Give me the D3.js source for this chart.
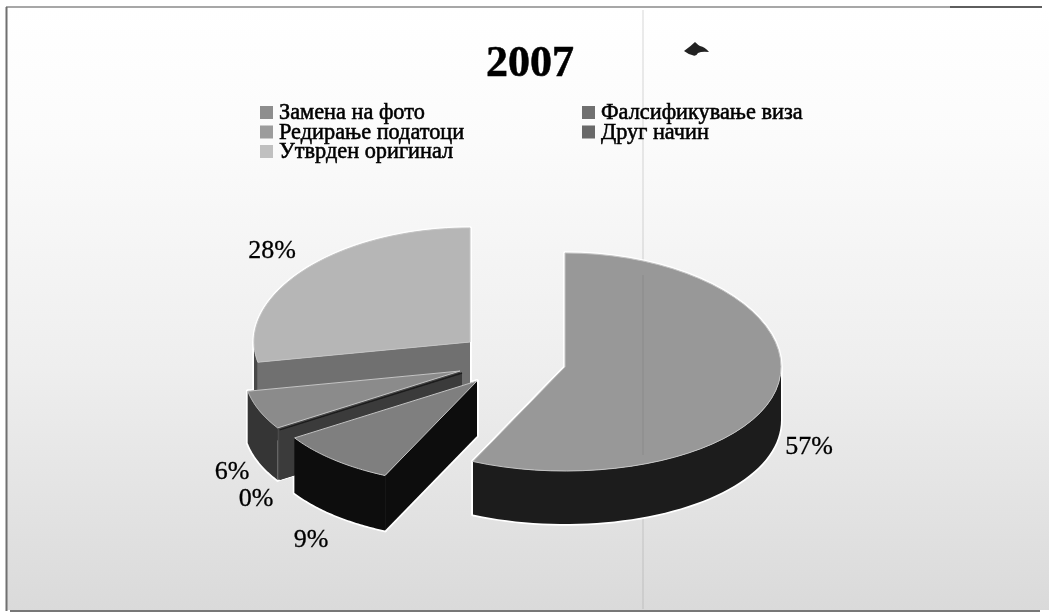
<!DOCTYPE html>
<html>
<head>
<meta charset="utf-8">
<script src="https://cdnjs.cloudflare.com/ajax/libs/d3/7.8.5/d3.min.js"></script>
<style>
  html, body { margin: 0; padding: 0; background: #fff; }
  svg { display: block; }
  text { font-family: "Liberation Serif", serif; fill: #000; stroke: #000; stroke-width: 0.55px; }
</style>
</head>
<body>
<svg id="chart" width="1049" height="613"></svg>
<script>
// Share of forged documents by method, 2007
const chartTitle = "2007";
const categories = ["Замена на фото", "Фалсификување виза", "Редирање податоци", "Друг начин", "Утврден оригинал"];
const percentValues = [57, 9, 0, 6, 28];

const legendColors = ["#8e8e8e", "#707070", "#9c9c9c", "#696969", "#c0c0c0"];
const topColors = ["#989898", "#7f7f7f", "#2a2a2a", "#8b8b8b", "#b6b6b6"];
const outerWallColors = ["#1b1b1b", "#0c0c0c", "#3a3a3a", "#343434", "#4a4a4a"];
const radialWallColors = ["#1b1b1b", "#0c0c0c", "#3a3a3a", "#484848", "#707070"];

// Slice apex on the page, one per slice (exploded pie)
const apexX = [565, 477, 462, 460, 470];
const apexY = [367, 381, 373, 371, 342];
const wallDepth = [53, 55, 50, 52, 50];
const labelX = [809, 311, 256, 232, 272];
const labelY = [454, 547, 506, 479, 258];

const radiusX = 216;
const drawOrder = [4, 3, 2, 1, 0];

const svg = d3.select("#chart");
const defs = svg.append("defs");

const bg = defs.append("linearGradient").attr("id", "paper").attr("x1", 0).attr("y1", 0).attr("x2", 0).attr("y2", 1);
bg.append("stop").attr("offset", "0%").attr("stop-color", "#ffffff");
bg.append("stop").attr("offset", "22%").attr("stop-color", "#fbfbfb");
bg.append("stop").attr("offset", "60%").attr("stop-color", "#eeeeee");
bg.append("stop").attr("offset", "100%").attr("stop-color", "#dadada");

defs.append("filter").attr("id", "soft")
  .attr("filterUnits", "userSpaceOnUse").attr("x", 0).attr("y", 0).attr("width", 1049).attr("height", 613)
  .append("feGaussianBlur").attr("stdDeviation", 0.6);

const root = svg.append("g").attr("filter", "url(#soft)");

// Sheet and its frame
root.append("rect").attr("x", 7).attr("y", 8).attr("width", 1042).attr("height", 602).attr("fill", "url(#paper)");
const frame = root.append("g").attr("fill", "none");
frame.append("line").attr("x1", 6).attr("y1", 7).attr("x2", 950).attr("y2", 7).attr("stroke", "#8a8a8a").attr("stroke-width", 1.6);
frame.append("line").attr("x1", 950).attr("y1", 7).attr("x2", 1042).attr("y2", 7).attr("stroke", "#2a2a2a").attr("stroke-width", 1.6);
frame.append("line").attr("x1", 6.5).attr("y1", 7).attr("x2", 6.5).attr("y2", 611).attr("stroke", "#6f6f6f").attr("stroke-width", 2);
frame.append("line").attr("x1", 10).attr("y1", 611).attr("x2", 1040).attr("y2", 611).attr("stroke", "#4a4a4a").attr("stroke-width", 1.6);

// Fold running down the sheet
root.append("line").attr("x1", 643).attr("y1", 10).attr("x2", 643).attr("y2", 609)
  .attr("stroke", "#8a8a8a").attr("stroke-opacity", 0.22).attr("stroke-width", 1.5);

// Title
root.append("text").attr("x", 530).attr("y", 76).attr("text-anchor", "middle")
  .attr("font-size", 44).attr("font-weight", "bold").text(chartTitle);

// Legend: two columns filled row by row
const legendCol = d3.scaleOrdinal().domain([0, 1]).range([260, 582]);
const legendRow = d3.scaleLinear().domain([0, 2]).range([112, 151]);
const legend = root.append("g").selectAll("g").data(categories).join("g")
  .attr("transform", (d, i) => `translate(${legendCol(i % 2)},${legendRow(Math.floor(i / 2))})`);
legend.append("rect").attr("x", 0).attr("y", -6).attr("width", 13).attr("height", 13)
  .attr("fill", (d, i) => legendColors[i]);
legend.append("text").attr("x", 19).attr("y", 7).attr("font-size", 22.3).text(d => d);

// Pie angles, clockwise from twelve o'clock
const pie = d3.pie().sort(null).value(d => d);
const arcs = pie(percentValues);

// Tilted disc projection; far half stretches slightly more than the near half
const xOf = d3.scaleLinear().domain([-1, 1]).range([-radiusX, radiusX]);
const tilt = v => 108.8 * v / (1 + 0.046 * v);
const project = (i, a, r = 1, drop = 0) => [
  apexX[i] + xOf(r * Math.sin(a)),
  apexY[i] + tilt(-r * Math.cos(a)) + drop
];
const line = d3.line();
const sample = (a0, a1) => d3.range(0, 49).map(k => a0 + (a1 - a0) * k / 48);

function topPath(i) {
  const a = arcs[i];
  return line([project(i, 0, 0), ...sample(a.startAngle, a.endAngle).map(t => project(i, t))]) + "Z";
}
function radialWall(i, angle) {
  const h = wallDepth[i];
  return line([project(i, 0, 0), project(i, angle), project(i, angle, 1, h), project(i, 0, 0, h)]) + "Z";
}
function outerWall(i) {
  const a = arcs[i], h = wallDepth[i];
  const from = Math.max(a.startAngle, Math.PI / 2), to = Math.min(a.endAngle, 3 * Math.PI / 2);
  if (to <= from) return null;
  const ts = sample(from, to);
  return line([...ts.map(t => project(i, t)), ...ts.slice().reverse().map(t => project(i, t, 1, h))]) + "Z";
}
const wallsOf = i => [
  { d: radialWall(i, arcs[i].startAngle), fill: radialWallColors[i] },
  { d: radialWall(i, arcs[i].endAngle), fill: radialWallColors[i] },
  { d: outerWall(i), fill: outerWallColors[i] },
].filter(s => s.d);

// Pale rim behind every slice, so it only shows against the sheet
const rimPaths = drawOrder.filter(i => arcs[i].value > 0).flatMap(i => [...wallsOf(i).map(s => s.d), topPath(i)]);
root.append("g").selectAll("path").data(rimPaths).join("path")
  .attr("d", d => d).attr("fill", "#fff").attr("stroke", "#fff").attr("stroke-width", 3.5).attr("stroke-linejoin", "round");

const slices = root.append("g").selectAll("g").data(drawOrder).join("g");
slices.each(function (i) {
  const g = d3.select(this);
  g.selectAll("path.wall").data(wallsOf(i)).join("path").attr("class", "wall")
    .attr("d", d => d.d).attr("fill", d => d.fill);
  const filled = arcs[i].value > 0;
  g.append("path").attr("d", topPath(i)).attr("fill", topColors[i])
    .attr("stroke", filled ? "#c4c4c4" : "#1c1c1c").attr("stroke-width", filled ? 1 : 1.5);
});

// Fold stays visible across the main slice
root.append("line").attr("x1", 643).attr("y1", 275).attr("x2", 643).attr("y2", 455)
  .attr("stroke", "#777").attr("stroke-opacity", 0.25).attr("stroke-width", 1.5);

// Percentage labels
root.append("g").selectAll("text").data(percentValues).join("text")
  .attr("x", (d, i) => labelX[i]).attr("y", (d, i) => labelY[i])
  .attr("text-anchor", "middle").attr("font-size", 26).attr("style", "stroke-width:0.3px").text(d => d + "%");

// Stray ink speck beside the title
const speck = d3.path();
speck.moveTo(684, 51);
speck.quadraticCurveTo(691, 46, 695, 42);
speck.quadraticCurveTo(698, 45, 700, 46);
speck.quadraticCurveTo(705, 47, 709, 52);
speck.quadraticCurveTo(702, 51, 698, 53);
speck.quadraticCurveTo(696, 57, 692, 55);
speck.quadraticCurveTo(688, 54, 684, 51);
root.append("path").attr("d", speck.toString()).attr("fill", "#222");
</script>
</body>
</html>
